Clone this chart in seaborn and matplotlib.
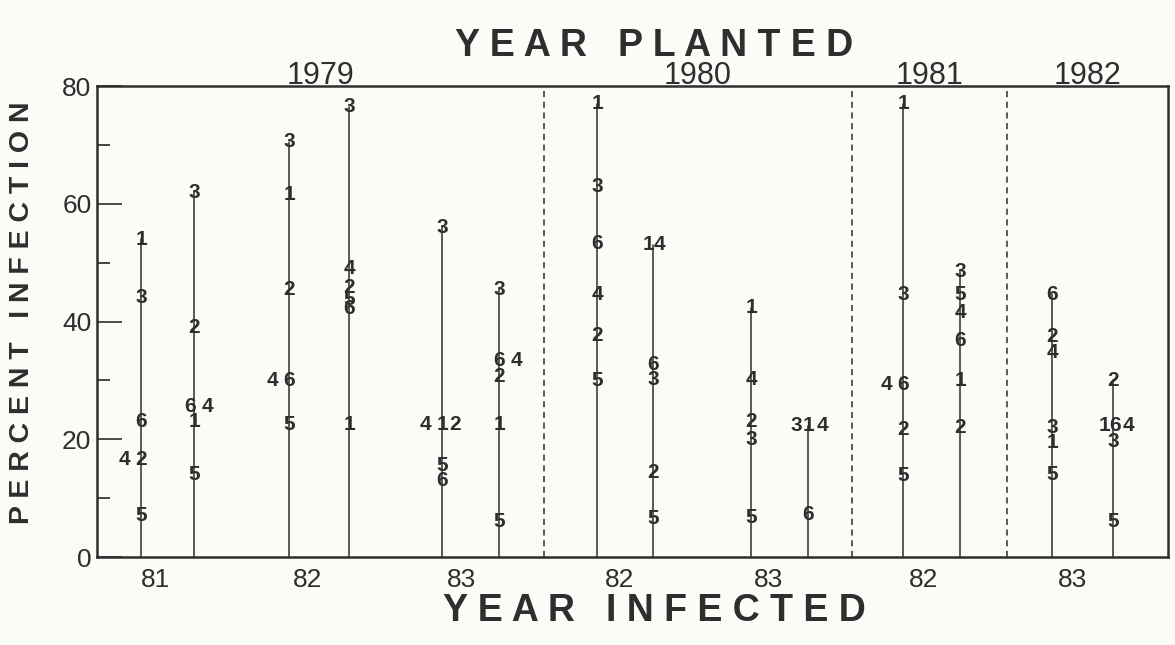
import numpy as np
import pandas as pd
import matplotlib
matplotlib.use("Agg")
import matplotlib.pyplot as plt
import seaborn as sns

# stems: one per planting/infection/cultivar-set, numbers are cultivars
stem_x = [44, 97, 192, 252, 345, 402, 500, 556, 654, 711, 806, 863, 955, 1016]
stem_labels = [
    ["1", "3", "6", "2", "4", "5"],
    ["3", "2", "6", "4", "1", "5"],
    ["3", "1", "2", "6", "4", "5"],
    ["3", "4", "2", "5", "6", "1"],
    ["3", "1", "4", "2", "5", "6"],
    ["3", "6", "4", "2", "1", "5"],
    ["1", "3", "6", "4", "2", "5"],
    ["1", "4", "6", "3", "2", "5"],
    ["1", "4", "2", "3", "5"],
    ["1", "3", "4", "6"],
    ["1", "3", "6", "4", "2", "5"],
    ["3", "5", "4", "6", "1", "2"],
    ["6", "2", "4", "3", "1", "5"],
    ["2", "6", "1", "4", "3", "5"],
]
stem_values = [
    [54, 44, 23, 16.5, 16.5, 7],
    [62, 39, 25.5, 25.5, 23, 14],
    [70.5, 61.5, 45.5, 30, 30, 22.5],
    [76.5, 49, 45.7, 43.7, 42.2, 22.5],
    [56, 22.5, 22.5, 22.5, 15.5, 13],
    [45.5, 33.3, 33.3, 30.7, 22.5, 6],
    [77, 63, 53.3, 44.6, 37.6, 30],
    [53, 53, 32.7, 30.2, 14.4, 6.6],
    [42.3, 30.2, 23.1, 20, 6.7],
    [22.3, 22.3, 22.3, 7.3],
    [77, 44.6, 29.3, 29.3, 21.7, 13.8],
    [48.5, 44.6, 41.5, 36.7, 30, 22],
    [44.6, 37.5, 34.7, 22, 19.4, 14.1],
    [30, 22.3, 22.3, 22.3, 19.7, 6],
]
# where the number sits relative to its stem, in digit widths (- left, + right)
stem_sides = [
    [0, 0, 0, 0, -1.5, 0],
    [0, 0, -0.35, 1.2, 0, 0],
    [0, 0, 0, 0, -1.5, 0],
    [0, 0, 0, 0, 0, 0],
    [0, 0, -1.5, 1.15, 0, 0],
    [0, 0, 1.6, 0, 0, 0],
    [0, 0, 0, 0, 0, 0],
    [-0.45, 0.6, 0, 0, 0, 0],
    [0, 0, 0, 0, 0],
    [0, -1.05, 1.3, 0],
    [0, 0, 0, -1.5, 0, 0],
    [0, 0, 0, 0, 0, 0],
    [0, 0, 0, 0, 0, 0],
    [0, 0.15, -0.8, 1.35, 0, 0],
]

infected_pos = [58, 211, 364, 523, 671, 826, 975]
infected_labels = ["81", "82", "83", "82", "83", "82", "83"]
planted_bounds = [0, 447, 755, 910, 1071]
planted_labels = ["1979", "1980", "1981", "1982"]

ink = "#2e2e2e"
paper = "#fbfbf7"

rows = []
stem_rows = []
for i, x in enumerate(stem_x):
    for lab, v, s in zip(stem_labels[i], stem_values[i], stem_sides[i]):
        rows.append({"stem": i, "x": x, "value": v, "label": lab, "side": s})
    stem_rows.append({"stem": i, "x": x, "y": 0})
    stem_rows.append({"stem": i, "x": x, "y": max(stem_values[i])})
df = pd.DataFrame(rows)
stems = pd.DataFrame(stem_rows)

sns.set_theme(style="ticks")
plt.rcParams["font.family"] = ["Liberation Sans", "DejaVu Sans"]

fig = plt.figure(figsize=(11.75, 6.45), dpi=100, facecolor=paper)
ax = fig.add_axes([0.0826, 0.1364, 0.9115, 0.7302])
ax.set_facecolor(paper)

sns.lineplot(data=stems, x="x", y="y", units="stem", estimator=None,
             color=ink, lw=1.1, ax=ax, legend=False)

for _, r in df.iterrows():
    ax.annotate(r["label"], (r["x"], r["value"]), xytext=(r["side"] * 8, 0),
                textcoords="offset points", ha="center", va="center",
                fontsize=15, fontweight="bold", color=ink)

for b in planted_bounds[1:-1]:
    ax.axvline(b, color=ink, lw=1.1, ls=(0, (4, 3)))

for i, lab in enumerate(planted_labels):
    mid = (planted_bounds[i] + planted_bounds[i + 1]) / 2
    ax.text(mid, 1.004, lab, transform=ax.get_xaxis_transform(), ha="center",
            va="baseline", fontsize=22, color=ink)

ax.set_xlim(planted_bounds[0], planted_bounds[-1])
ax.set_ylim(0, 80)
ax.set_xticks(infected_pos)
ax.set_xticklabels(infected_labels)
ax.set_yticks([0, 20, 40, 60, 80])
ax.set_yticks([10, 30, 50, 70], minor=True)
ax.tick_params(axis="x", length=0, pad=8, labelsize=19, colors=ink)
ax.tick_params(axis="y", which="major", direction="in", length=18, width=1.2,
               pad=4, labelsize=19, colors=ink)
ax.tick_params(axis="y", which="minor", direction="in", length=9, width=1.2)
ax.set_xlabel("")
ax.set_ylabel("")
for sp in ax.spines.values():
    sp.set_linewidth(1.8)
    sp.set_color(ink)

fig.text(0.557, 0.928, "Y E A R   P L A N T E D", ha="center", va="center",
         fontsize=27, fontweight="bold", color=ink)
fig.text(0.557, 0.052, "Y E A R   I N F E C T E D", ha="center", va="center",
         fontsize=27, fontweight="bold", color=ink)
fig.text(0.019, 0.515, "P E R C E N T   I N F E C T I O N", ha="center",
         va="center", rotation=90, fontsize=20.5, fontweight="bold", color=ink)

fig.savefig("out.png", dpi=100, facecolor=paper)
